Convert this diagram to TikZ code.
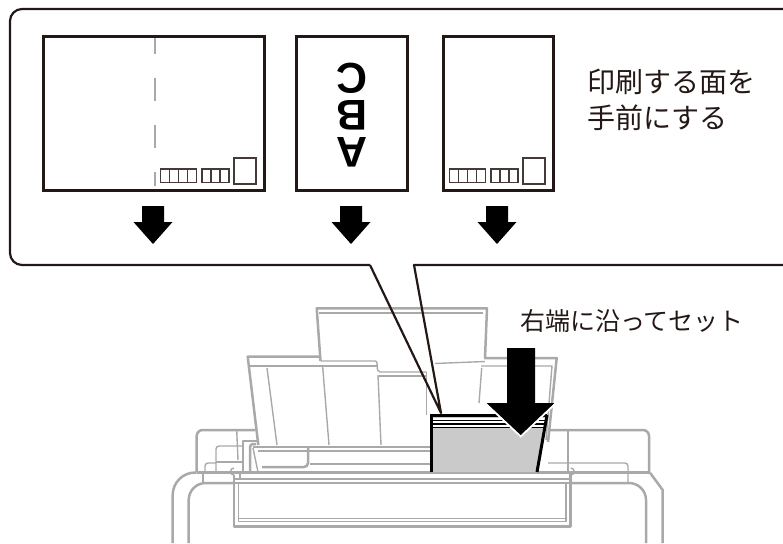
\documentclass[tikz,border=0pt]{standalone}
\usepackage{fontspec}
\newfontfamily\jpfont{Noto Sans CJK JP}
\newfontfamily\abcfont{Liberation Sans}
\definecolor{inkline}{HTML}{231815}
\definecolor{printerline}{HTML}{A8A9A8}
\definecolor{paperfill}{HTML}{C9CAC9}
\tikzset{
  callout/.style={draw = inkline,line width = 2.2pt,line join = round},
  sheet/.style={draw = inkline,line width = 2.4pt,outer sep = 0pt},
  stampline/.style={draw = inkline!85,line width = 1.1pt},
  bodyline/.style={draw = printerline,line width = 2.5pt,line join = round},
  thinline/.style={draw = printerline,line width = 1.4pt,line join = round},
  jplabel/.style={font = \jpfont\fontsize{28}{36}\selectfont,text = inkline,inner sep = 0pt,align = left},
  blockarrow/.pic={
    \fill[black] (-11,-38) -- (11,-38) -- (11,-22) -- (19.5,-22) -- (0,0) -- (-19.5,-22) -- (-11,-22) -- cycle;
  },
  stamps/.pic={
    \foreach \x in {0,9,18,27}
      \draw[stampline] (\x,0) rectangle (\x + 9,13.5);
    \foreach \x in {41.5,50.5,59.5}
      \draw[stampline] (\x,0) rectangle (\x + 9,13.5);
    \draw[stampline,line width = 1.6pt] (41.5,0) rectangle (50.5,13.5);
    \draw[stampline] (73.5,-11) rectangle (95.5,15);
  }
}
\begin{document}
\begin{tikzpicture}[x=1pt,y=-1pt]
  \clip (0,0) rectangle (783,543);
  \useasboundingbox (0,0) rectangle (783,543);
  % printer, back supports
  \draw[bodyline] (320.5,361) -- (316.7,308.3) -- (487,308.3) -- (485,358) -- (556.7,358) -- (548,442);
  \draw[thinline] (319,313) -- (483,313);
  \draw[bodyline] (258.3,445) -- (247.7,356.7) -- (320.5,356.7);
  \draw[thinline] (248.5,366) -- (378,366);
  \draw[thinline] (320.5,361) -- (375,361) arc (-90:0:2) -- (377.5,370) -- (380,372) -- (426.7,372);
  \draw[thinline] (379,376) -- (426.7,376);
  \draw[thinline] (435,363.5) -- (485,361.5);
  \draw[thinline] (481,366) -- (552,366) -- (546,440);
  \draw[thinline] (267,368) -- (277,445);
  \draw[thinline] (322.7,367) -- (329,445);
  \draw[thinline] (378,375) -- (381,445);
  \draw[thinline] (426.7,372) -- (426.7,415);
  \draw[thinline] (481.7,368) -- (479,403);
  % printer, shoulders
  \draw[bodyline] (196.7,472) -- (196.7,436) arc (180:270:6) -- (255,430);
  \draw[thinline] (236.7,430) -- (238,460);
  \draw[thinline] (216,472) -- (216,449) arc (180:270:3) -- (243,446);
  \draw[thinline] (216,462) -- (243,462);
  \draw[thinline] (205,472) -- (205,466) arc (180:270:3) -- (216,463);
  \draw[thinline] (243,472) -- (243,441) -- (258,441);
  \draw[bodyline] (250,472) -- (250,447) arc (180:270:3) -- (256,444);
  \draw[thinline] (253,448) -- (258,472);
  \draw[bodyline] (649,472) -- (649,436) arc (0:-90:6) -- (550,430);
  \draw[thinline] (568,430) -- (568,472);
  \draw[thinline] (548,463) -- (625,463) arc (-90:0:3) -- (628,483);
  % printer, paper guide and bar
  \draw[bodyline] (253,447) -- (430,447);
  \draw[thinline] (258,451) -- (430,451);
  \draw[bodyline] (308,448) -- (308,463) arc (0:90:4) -- (262,467);
  \draw[thinline] (310,464) -- (430,464);
  \draw[bodyline] (196.7,472.5) -- (650,472.5);
  % printer, body and front tray
  \draw[bodyline] (172.7,543) -- (172.7,495) arc (180:270:22.5) -- (196.7,472.5);
  \draw[bodyline] (188.7,543) -- (188.7,500) arc (180:270:17) -- (234,483);
  \draw[bodyline] (203,473) -- (203,483);
  \draw[bodyline] (662.7,543) -- (662.7,490) -- (650,472.7);
  \draw[bodyline] (646,543) -- (646,500) arc (0:-90:17) -- (571,483);
  \draw[bodyline] (234,475) -- (234,526.7) -- (570.7,526.7) -- (570.7,473);
  \draw[thinline] (238.3,482.7) -- (238.3,521.7) -- (566,521.7) -- (566,482.7);
  \draw[thinline] (238.3,518.5) -- (566,518.5);
  \draw[thinline] (234,479) -- (570.7,479);
  \draw[thinline] (234,483) -- (570.7,483);
  \draw[thinline] (240,472.5) -- (240,479);
  \draw[thinline] (234,475) arc (90:270:3.5);
  \draw[thinline] (570.7,475) arc (90:-90:3.5);
  % paper stack
  \fill[paperfill] (431,415) -- (546,415) -- (537,472) -- (431,472) -- cycle;
  \fill[white] (431,418) rectangle (546,427);
  \foreach \y in {420.5,424,427.5}
    \draw[black,line width = 1.2pt] (431,\y) -- (546,\y);
  \draw[black,line width = 3pt] (431,472) -- (431,415.5) -- (547,415.5);
  \draw[black,line width = 3pt] (547,415) -- (537,472);
  % big arrow
  \fill[black] (507,348) -- (535,348) -- (535,403) -- (555,403) -- (520.7,435.5) -- (486,403) -- (507,403) -- cycle;
  \draw[white,line width = 1.8pt] (485,403) -- (520.7,436.5) -- (556,403);
  % callout
  \draw[callout] (370,265) -- (22,265) arc (90:180:12) -- (10,21) arc (180:270:12) -- (800,9);
  \draw[callout] (800,265) -- (414,265) -- (441,413) -- (370,265);
  % sheets
  \node[sheet,minimum width = 221pt,minimum height = 154pt,inner sep = 0pt,anchor = north west] (sheetwide) at (43.5,36.5) {};
  \node[sheet,minimum width = 111pt,minimum height = 154pt,inner sep = 0pt,anchor = north west] (sheetabc) at (296.5,36.5) {};
  \node[sheet,minimum width = 110pt,minimum height = 154pt,inner sep = 0pt,anchor = north west] (sheetnarrow) at (443.5,36.5) {};
  \draw[printerline,line width = 1.6pt,dash pattern = on 23pt off 24pt,dash phase = 7pt] (155,38) -- (155,186);
  \pic at (160.5,169) {stamps};
  \pic at (449.5,169) {stamps};
  \node[rotate = 180,font = \abcfont\bfseries\fontsize{43}{37}\selectfont,align = center,inner sep = 0pt] (abctext) at (352,115.5) {A\\B\\C};
  % arrows under the sheets
  \pic at (153,244) {blockarrow};
  \pic at (351,244) {blockarrow};
  \pic at (497,244) {blockarrow};
  % labels
  \node[jplabel,anchor = west] (facetext) at (587,100) {印刷する面を\\手前にする};
  \node[jplabel,anchor = west,font = \jpfont\fontsize{25}{30}\selectfont] (edgetext) at (520,321) {右端に沿ってセット};
\end{tikzpicture}
\end{document}
